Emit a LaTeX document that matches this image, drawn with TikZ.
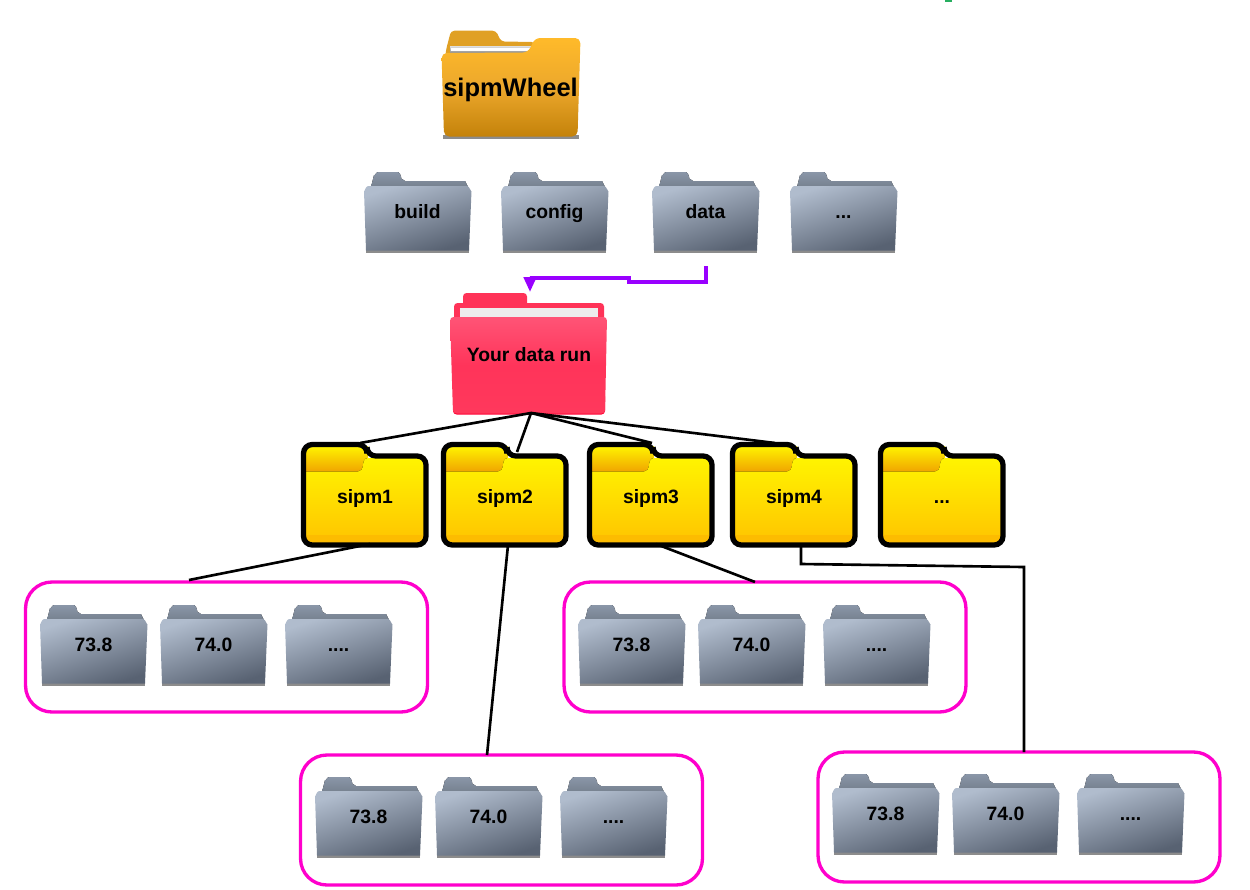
\documentclass[tikz,border=0pt]{standalone}
\usepackage{fontspec}
\setmainfont{Liberation Sans}
\usepackage{xcolor}
\usepackage{pgf,tikz}
\usetikzlibrary{arrows.meta}
\definecolor{wirepurple}{HTML}{9900FF}
\definecolor{boxpink}{HTML}{FF00CC}
\definecolor{markgreen}{HTML}{27AE60}
\definecolor{grayback}{HTML}{8A96A8}
\definecolor{graybackb}{HTML}{76818F}
\definecolor{graytop}{HTML}{B0BCCD}
\definecolor{graybot}{HTML}{586272}
\definecolor{yelltop}{HTML}{FFF400}
\definecolor{yellbot}{HTML}{FFC400}
\definecolor{yellband}{HTML}{FDBC00}
\definecolor{tabbot}{HTML}{F0A000}
\definecolor{redmain}{HTML}{FF3358}
\definecolor{redtop}{HTML}{FF5476}
\definecolor{redmid}{HTML}{FF345A}
\definecolor{redbot}{HTML}{FF385C}
\definecolor{rededge}{HTML}{FF0032}
\definecolor{orgback}{HTML}{E0A024}
\definecolor{orgtop}{HTML}{FFBA2A}
\definecolor{orgmid}{HTML}{ECA82C}
\definecolor{orgbot}{HTML}{C4820A}
\tikzset{
  foldertext/.style = {font={\fontsize{11pt}{12}\selectfont\bfseries}, inner sep=0pt, text=black, anchor=base},
  folderbox/.style = {inner sep=0pt, minimum width=#1},
  edge/.style = {draw=black, line width=1.5pt},
  rowbox/.style = {draw=boxpink, line width=1.9pt, rounded corners=15pt, minimum width=8.04cm, minimum height=2.6cm, inner sep=0pt},
  pics/grayfolder/.style = {code={
    \node[folderbox=2.16cm, minimum height=1.6cm] (-box) at (54,40) {};
    \fill[top color=grayback, bottom color=graybackb] (7,15) -- (10,3) to[out=-80,in=180] (14,0) -- (34,0) to[out=0,in=-100] (38,7) -- (41,9) -- (101,9) -- (104,15) -- cycle;
    \fill[black!45] (2,77) -- (105,77) -- (105,80.5) -- (2,80.5) -- cycle;
    \shade[top color=graytop, bottom color=graybot, shading angle=18]
      (2,78.5) -- (0,19) to[out=-90,in=180] (4,14) -- (103,14) to[out=0,in=-90] (107.5,19) -- (105,78.5) -- cycle;
    \node[foldertext] (-text) at (53.5,46) {#1};
  }},
  pics/yellowfolder/.style = {code={
    \node[folderbox=2.52cm, minimum height=2.08cm] (-box) at (63,52) {};
    \fill[top color=yelltop, bottom color=tabbot] (3,3) rectangle (66,30);
    \fill[top color=yelltop, bottom color=yellbot]
      (4,100) -- (4,28.5) -- (56,28.5) to[out=0,in=-90] (61,23) to[out=90,in=180] (66,15) -- (122,15) -- (122,100) -- cycle;
    \fill[yellband] (4,92) rectangle (122,100);
    \draw[black, line width=3pt, rounded corners=5pt] (1.5,1.5) -- (65,1.5) -- (65,13) -- (124,13) -- (124,102) -- (1.5,102) -- cycle;
    \node[foldertext] (-text) at (63,60) {#1};
  }},
  pics/redfolder/.style = {code={
    \node[folderbox=3.14cm, minimum height=2.42cm] (-box) at (78.5,60.5) {};
    \fill[redmain, rounded corners=2pt] (13,0) rectangle (77,14);
    \fill[redmain, rounded corners=2pt] (4,10) rectangle (154,30);
    \fill[black!7] (10,15) rectangle (148,26);
    \fill[rededge, rounded corners=2pt] (3,100) rectangle (155,121.5);
    \shade[top color=redtop, bottom color=redbot, middle color=redmid, rounded corners=2pt]
      (3,120.5) -- (0,24) -- (157,24) -- (155,120.5) -- cycle;
    \node[foldertext] (-text) at (79,68) {#1};
  }},
  pics/orangefolder/.style = {code={
    \node[folderbox=2.8cm, minimum height=2.18cm] (-box) at (70,54.5) {};
    \fill[orgback, rounded corners=2pt] (4,30) -- (5,20) -- (10,0.7) -- (55,0.7) -- (60,11.5) -- (94,12) -- (94,30) -- cycle;
    \fill[top color=black!15, bottom color=black!45] (9,16.5) rectangle (90,23);
    \fill[white] (10,18) rectangle (89,20.5);
    \fill[black!45] (2,105) rectangle (138,109);
    \shade[top color=orgtop, bottom color=orgbot, middle color=orgmid, rounded corners=3pt]
      (3,106.5) -- (0.5,23) -- (87,22.5) -- (94,8) -- (139.5,8) -- (136.5,106.5) -- cycle;
    \node[foldertext, font={\fontsize{14.5pt}{12}\selectfont\bfseries}] (-text) at (69.5,66) {#1};
  }}
}
% one row of version folders
\newcommand{\moredots}{....}
\newcommand{\versionrow}[3]{
  \foreach \dx/\lab/\nm in {0/73.8/a, 120/74.0/b, 245/\moredots/c}
    \pic (#3\nm) at (#1+\dx,#2) {grayfolder={\lab}};
}

\begin{document}
\begin{tikzpicture}[x=0.02cm, y=-0.02cm]
        \useasboundingbox (0,0) rectangle (1250,889);

        \fill[markgreen] (945,0) rectangle (952,2);

        % top folders
        \pic (wheel) at (441,30) {orangefolder={sipmWheel}};
        \pic (build) at (364,172) {grayfolder={build}};
        \pic (config) at (501,172) {grayfolder={config}};
        \pic (data) at (652,172) {grayfolder={data}};
        \pic (other) at (790,172) {grayfolder={...}};
        \pic (run) at (450,293) {redfolder={Your data run}};

        % sipm folders
        \pic (sipmA) at (302,443) {yellowfolder={sipm1}};
        \pic (sipmB) at (442,443) {yellowfolder={sipm2}};
        \pic (sipmC) at (588,443) {yellowfolder={sipm3}};
        \pic (sipmD) at (731,443) {yellowfolder={sipm4}};
        \pic (sipmE) at (879,443) {yellowfolder={...}};

        % version boxes
        \node[rowbox] (rowA) at (226.5,647) {};
        \node[rowbox] (rowB) at (501.5,820) {};
        \node[rowbox] (rowC) at (765,647) {};
        \node[rowbox] (rowD) at (1019,817) {};
        \versionrow{40}{605}{ra}
        \versionrow{315}{777}{rb}
        \versionrow{578}{605}{rc}
        \versionrow{832}{774}{rd}

        % free ends
        \coordinate (dataout) at (706,266);
        \coordinate (runin) at (530,292);
        \coordinate (hub) at (531,413);
        \coordinate (inA) at (360,443);
        \coordinate (inB) at (517,452);
        \coordinate (inC) at (652,443);
        \coordinate (inD) at (775,443);
        \coordinate (outA) at (370,544);
        \coordinate (outB) at (508,545);
        \coordinate (outC) at (656,544);
        \coordinate (outD) at (801,547);
        \coordinate (topA) at (189,580);
        \coordinate (topB) at (487,755);
        \coordinate (topC) at (755,582);
        \coordinate (topD) at (1024,752);

        % edges
        \draw[draw=wirepurple, line width=2pt, -{Triangle[length=8.5pt, width=7pt]}]
            (dataout) -- (706,282) -- (629,282) -- (629,278) -- (530,278) -- (runin);
        \draw[edge] (hub) -- (inA);
        \draw[edge] (hub) -- (inB);
        \draw[edge] (hub) -- (inC);
        \draw[edge] (hub) -- (inD);
        \draw[edge] (outA) -- (topA);
        \draw[edge] (outB) -- (topB);
        \draw[edge] (outC) -- (topC);
        \draw[edge] (outD) -- (801,564) -- (1024,567) -- (topD);

\end{tikzpicture}
\end{document}
